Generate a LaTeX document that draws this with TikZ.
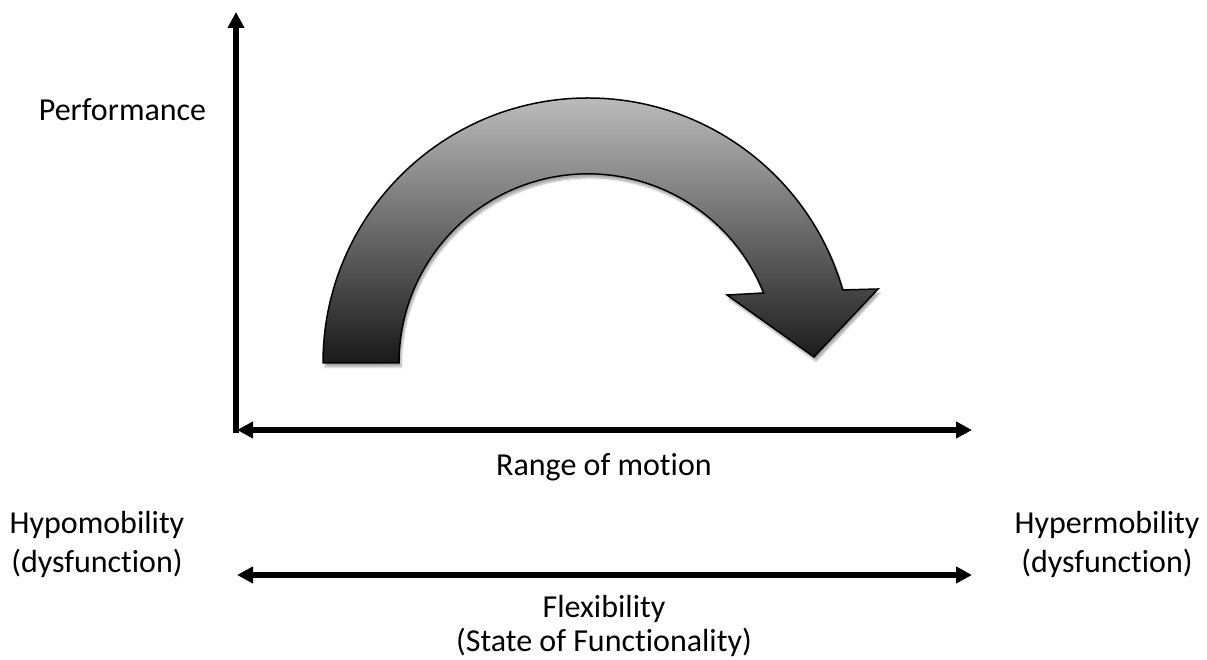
\documentclass[tikz,border=0pt]{standalone}
\usepackage{fontspec}
\setmainfont{Carlito}[Ligatures=NoCommon]
\usetikzlibrary{arrows.meta,shadows.blur}
\definecolor{arrtop}{HTML}{BBBBBB}
\definecolor{arrbot}{HTML}{191919}
\begin{document}
\begin{tikzpicture}[x=1pt,y=1pt,
  tip/.style={-{Triangle[length=16pt,width=16pt]}},
  axis/.style={line width=6pt, {Triangle[length=16pt,width=16pt]}-{Triangle[length=16pt,width=16pt]}},
  lbl/.style={font=\fontsize{32}{39}\selectfont, inner sep=0pt, anchor=base},
  bigarrow/.style={draw=black, line width=1.5pt, top color=arrtop, bottom color=arrbot, line join=miter,
    blur shadow={shadow xshift=2pt, shadow yshift=-4pt, shadow blur steps=8, shadow opacity=35}}]
\useasboundingbox (0,0) rectangle (1207,660);
\coordinate (Ybot) at (236,227);
\coordinate (Ytop) at (236,648);
\coordinate (Xl) at (237,230);
\coordinate (Xr) at (972,230);
\coordinate (Fl) at (237,85);
\coordinate (Fr) at (972,85);
\draw[line width=6pt, tip] (Ybot) -- (Ytop);
\draw[axis] (Xl) -- (Xr);
\draw[axis] (Fl) -- (Fr);
\path[bigarrow] (323,297) arc[start angle=180, end angle=16, x radius=265pt, y radius=265pt]
  -- (878,371) -- (814,303) -- (727,365) -- (763.6,367)
  arc[start angle=21.7, end angle=180, x radius=189pt, y radius=189pt] -- cycle;
\node[lbl] (perf) at (122.5,539) {Performance};
\node[lbl] (rom) at (604,184) {Range of motion};
\node[lbl] (hypo1) at (97,126) {Hypomobility};
\node[lbl] (hypo2) at (97,87) {(dysfunction)};
\node[lbl] (hyper1) at (1107,126) {Hypermobility};
\node[lbl] (hyper2) at (1107,87) {(dysfunction)};
\node[lbl] (flex1) at (604,42) {Flexibility};
\node[lbl] (flex2) at (604,8) {(State of Functionality)};
\end{tikzpicture}
\end{document}
